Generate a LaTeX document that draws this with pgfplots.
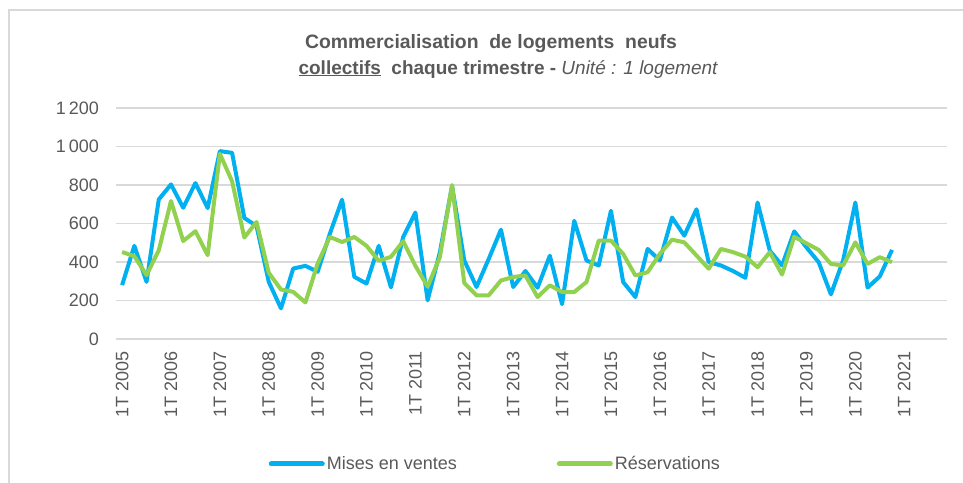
\documentclass[border=0pt]{standalone}
\usepackage{pgfplots}
\pgfplotsset{compat=1.18}
\usepackage{pgfplotstable}
\usepackage{fontspec}
\setmainfont{Liberation Sans}

\definecolor{mevblue}{HTML}{00B0F0}
\definecolor{resgreen}{HTML}{92D050}
\definecolor{txtgray}{HTML}{595959}
\definecolor{gridgray}{HTML}{D9D9D9}

% q = trimestre (0 = 1T 2005), mev = mises en vente, res = reservations
\pgfplotstableread{
q mev res
0 280 452
1 484 430
2 297 332
3 725 461
4 803 717
5 682 509
6 810 560
7 680 435
8 976 962
9 967 819
10 629 527
11 587 608
12 297 344
13 159 257
14 366 245
15 380 190
16 349 392
17 547 530
18 724 504
19 323 530
20 288 484
21 484 406
22 268 427
23 530 508
24 657 380
25 201 272
26 450 425
27 795 800
28 408 291
29 270 227
30 416 227
31 568 304
32 270 322
33 353 330
34 267 218
35 433 279
36 181 244
37 614 244
38 408 296
39 382 511
40 666 511
41 296 442
42 218 330
43 468 347
44 408 442
45 631 516
46 537 502
47 674 434
48 399 365
49 382 468
50 353 451
51 318 428
52 709 373
53 459 451
54 382 335
55 559 531
56 476 497
57 399 463
58 232 390
59 408 382
60 709 502
61 267 390
62 325 425
63 463 399
}\ventes

\begin{document}
\begin{tikzpicture}[x=1pt,y=1pt]
\useasboundingbox (0,0) rectangle (963,482);
\draw[gridgray, line width=1.2pt] (9,-5) -- (9,472) -- (970,472);
\node[text=txtgray, font=\fontsize{19.4}{23}\selectfont\bfseries] at (491,438)
  {Commercialisation\ \ de logements\ \ neufs};
\node[text=txtgray, font=\fontsize{19}{23}\selectfont\bfseries] at (508,413)
  {\underline{collectifs}\ \ chaque trimestre - {\mdseries\itshape Unité : 1 logement}};

\begin{axis}[
  at={(116pt,143pt)}, anchor=south west,
  scale only axis, width=831pt, height=231pt,
  xmin=-0.5, xmax=67.5, ymin=0, ymax=1200,
  axis line style={draw=none},
  major tick length=0pt,
  ymajorgrids, grid style={gridgray, line width=1.3pt},
  ytick={0,200,...,1200},
  yticklabels={0,200,400,600,800,1\,000,1\,200},
  xtick={0,4,...,64},
  xticklabels={1T 2005,1T 2006,1T 2007,1T 2008,1T 2009,1T 2010,1T 2011,1T 2012,1T 2013,1T 2014,1T 2015,1T 2016,1T 2017,1T 2018,1T 2019,1T 2020,1T 2021},
  tick label style={font=\fontsize{18}{20}\selectfont, text=txtgray},
  yticklabel style={inner xsep=0pt, xshift=-17pt},
  xticklabel style={rotate=90, anchor=east, inner xsep=12pt, inner ysep=0pt},
  legend columns=2,
  legend style={at={(0.18,-0.541)}, anchor=west, draw=none, fill=none,
    font=\fontsize{18}{20}\selectfont, text=txtgray,
    /tikz/every even column/.append style={column sep=98pt}},
  legend image code/.code={\draw[#1, line width=5pt, line cap=round] (0pt,0pt) -- (51pt,0pt);},
]
\addplot[mevblue, line width=4pt, line join=round] table[x=q, y=mev] {\ventes};
\addlegendentry{Mises en ventes}
\addplot[resgreen, line width=4pt, line join=round] table[x=q, y=res] {\ventes};
\addlegendentry{Réservations}
\end{axis}
\end{tikzpicture}
\end{document}
